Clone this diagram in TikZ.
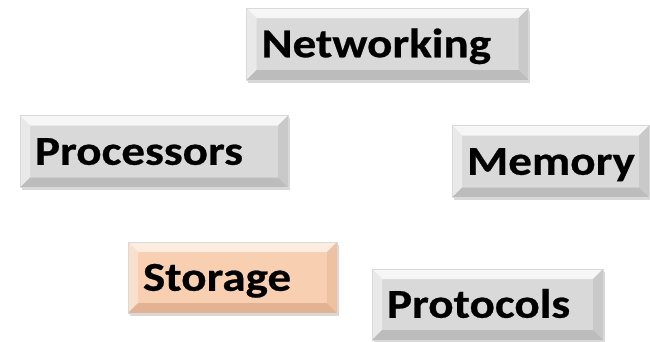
\documentclass[tikz,border=0pt]{standalone}
\usepackage{fontspec}
\setmainfont{Carlito}
\newfontfamily\btnfont[FakeStretch=1.15,BoldFont={* Bold},BoldFeatures={FakeBold=0.6}]{Carlito}
\usetikzlibrary{shadows}

\definecolor{faceGray}{HTML}{D9D9D9}
\definecolor{topGray}{HTML}{F6F6F6}
\definecolor{leftGray}{HTML}{E9E9E9}
\definecolor{rightGray}{HTML}{C9C9C9}
\definecolor{bottomGray}{HTML}{BCBCBC}
\definecolor{facePeach}{HTML}{F8CFB1}
\definecolor{topPeach}{HTML}{FDEDE1}
\definecolor{leftPeach}{HTML}{FADFCB}
\definecolor{rightPeach}{HTML}{ECC2A3}
\definecolor{bottomPeach}{HTML}{E1B393}

\tikzset{
  bevel/.style n args={4}{path picture={
    \coordinate (nw) at (path picture bounding box.north west);
    \coordinate (ne) at (path picture bounding box.north east);
    \coordinate (sw) at (path picture bounding box.south west);
    \coordinate (se) at (path picture bounding box.south east);
    \fill[#1] (nw) -- (ne) -- ([shift={(-10pt,-10pt)}]ne) -- ([shift={(10pt,-10pt)}]nw) -- cycle;
    \fill[#2] (nw) -- (sw) -- ([shift={(10pt,10pt)}]sw) -- ([shift={(10pt,-10pt)}]nw) -- cycle;
    \fill[#3] (ne) -- (se) -- ([shift={(-10pt,10pt)}]se) -- ([shift={(-10pt,-10pt)}]ne) -- cycle;
    \fill[#4] (sw) -- (se) -- ([shift={(-10pt,10pt)}]se) -- ([shift={(10pt,10pt)}]sw) -- cycle;
  }},
  btn/.style={rectangle, draw=black!15, line width=0.4pt,
    inner xsep=15pt, inner ysep=0pt, align=left,
    minimum height=72pt, text height=26.5pt, text depth=0pt,
    font=\btnfont\fontsize{41}{42}\selectfont\bfseries,
    drop shadow={shadow xshift=1.5pt, shadow yshift=-2.5pt, fill=black!30}},
  grayBtn/.style={btn, fill=faceGray, bevel={topGray}{leftGray}{rightGray}{bottomGray}},
  peachBtn/.style={btn, fill=facePeach, bevel={topPeach}{leftPeach}{rightPeach}{bottomPeach}}
}

\begin{document}
\begin{tikzpicture}[x=1pt,y=-1pt]
  \useasboundingbox (0,0) rectangle (650,341);
  \node[grayBtn, text width=252pt] (networking) at (387.5,44) {Networking};
  \node[grayBtn, text width=238pt] (processors) at (154,151.5) {Processors};
  \node[grayBtn, text width=167pt] (memory) at (550.5,161.5) {Memory};
  \node[peachBtn, text width=179pt, minimum height=71pt] (storage) at (232.5,277.5) {Storage};
  \node[grayBtn, text width=201pt, minimum height=71pt] (protocols) at (487.5,304.5) {Protocols};
\end{tikzpicture}
\end{document}
